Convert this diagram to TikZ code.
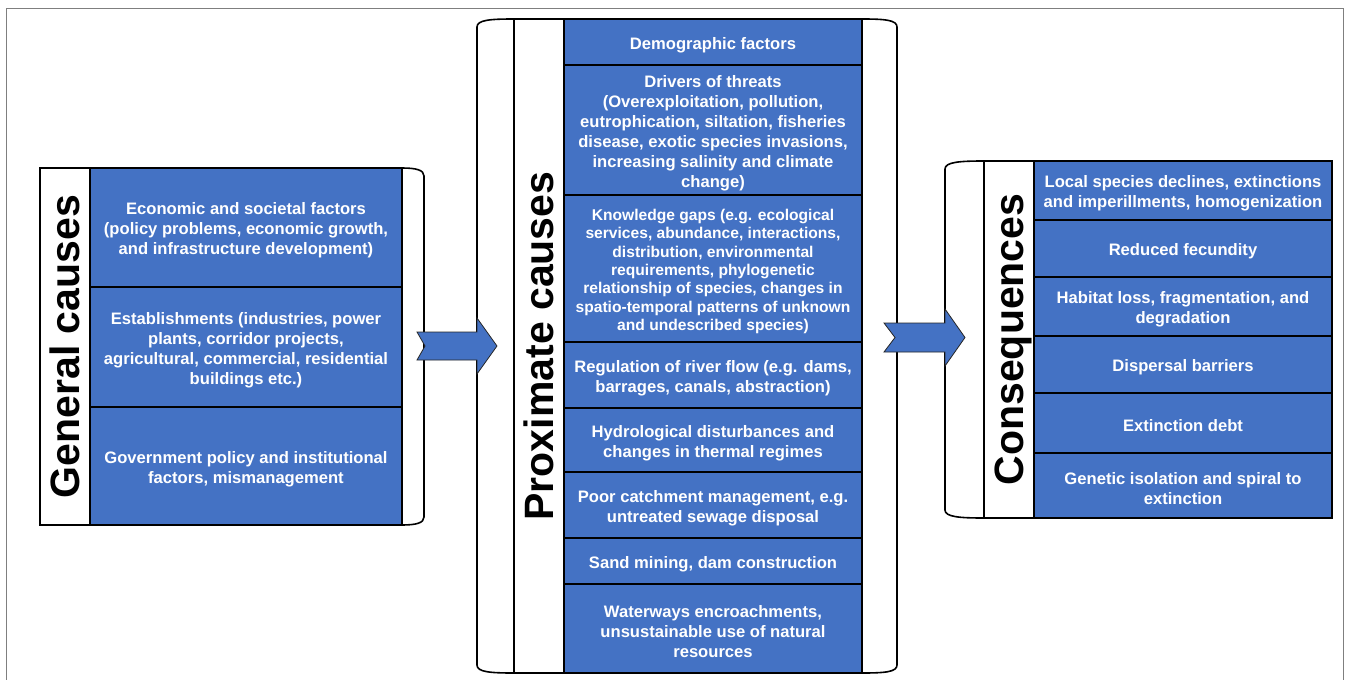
\documentclass[tikz,border=0pt]{standalone}
\usepackage{fontspec}
\setmainfont{Liberation Sans}
\definecolor{cellblue}{HTML}{4472C4}
\definecolor{framegray}{HTML}{7F7F7F}
\tikzset{
  cell/.style={draw=black, line width=1.6pt, fill=cellblue, inner sep=0pt},
  celltext/.style={text=white, font=\bfseries\fontsize{16.6}{20}\selectfont, align=center, inner sep=0pt},
  smalltext/.style={celltext, font=\bfseries\fontsize{15.6}{18.3}\selectfont},
  titlecol/.style={draw=black, line width=1.6pt, fill=white, rotate=90, inner sep=0pt,
    font=\bfseries\fontsize{41}{41}\selectfont, text height=29.4pt, text depth=0pt},
  curl/.style={draw=black, line width=1.6pt, fill=white},
  bigarrow/.style={draw=black!85, line width=0.8pt, fill=cellblue, line join=miter},
  outerframe/.style={draw=framegray, line width=1pt}
}
% #1 name, #2 width, #3 height, #4 centre, #5 text style, #6 text
\newcommand\mycell[6]{%
  \node[cell, minimum width=#2, minimum height=#3] (#1) at #4 {};
  \node[#5] (#1t) at ([yshift=-3pt]#1.center) {#6};}
\begin{document}
\begin{tikzpicture}[x=1pt,y=-1pt]
\useasboundingbox[fill=white] (0,0) rectangle (1347,680);
\draw[outerframe] (6,690) -- (6,8) -- (1343,8) -- (1343,690);

% scroll curls
\draw[curl] (402,168) .. controls (416,168) and (424,170) .. (424,176) -- (424,517) .. controls (424,523) and (416,525) .. (402,525) -- cycle;
\draw[curl] (514,19) .. controls (490,19) and (477,20) .. (477,27) -- (477,665) .. controls (477,672) and (490,673) .. (514,673) -- cycle;
\draw[curl] (862,19) .. controls (885,19) and (897,20) .. (897,27) -- (897,665) .. controls (897,672) and (885,673) .. (862,673) -- cycle;
\draw[curl] (984,161) .. controls (960,161) and (945,162) .. (945,169) -- (945,510) .. controls (945,517) and (960,518) .. (984,518) -- cycle;

% block arrows
\draw[bigarrow] (417,332) -- (477,332) -- (477,318) -- (497,346) -- (477,374) -- (477,360) -- (417,360) -- (425,346) -- cycle;
\draw[bigarrow] (884,323) -- (945,323) -- (945,309) -- (965,337.5) -- (945,366) -- (945,352) -- (884,352) -- (895,337.5) -- cycle;

% General causes
\node[titlecol, minimum width=357pt, minimum height=50pt] (gt) at (65,346.5) {General causes};
\mycell{g1}{312pt}{119pt}{(246,227.5)}{celltext}{Economic and societal factors\\(policy problems, economic growth,\\and infrastructure development)}
\mycell{g2}{312pt}{120pt}{(246,347)}{celltext}{Establishments (industries, power\\plants, corridor projects,\\agricultural, commercial, residential\\buildings etc.)}
\mycell{g3}{312pt}{118pt}{(246,466)}{celltext}{Government policy and institutional\\factors, mismanagement}

% Proximate causes
\node[titlecol, minimum width=654pt, minimum height=50pt] (pt) at (539,346) {Proximate causes};
\mycell{p1}{298pt}{46pt}{(713,42)}{celltext}{Demographic factors}
\mycell{p2}{298pt}{130pt}{(713,130)}{celltext}{Drivers of threats\\(Overexploitation, pollution,\\eutrophication, siltation, fisheries\\disease, exotic species invasions,\\increasing salinity and climate\\change)}
\mycell{p3}{298pt}{147pt}{(713,268.5)}{smalltext}{Knowledge gaps (e.g. ecological\\services, abundance, interactions,\\distribution, environmental\\requirements, phylogenetic\\relationship of species, changes in\\spatio-temporal patterns of unknown\\and undescribed species)}
\mycell{p4}{298pt}{66pt}{(713,375)}{celltext}{Regulation of river flow (e.g. dams,\\barrages, canals, abstraction)}
\mycell{p5}{298pt}{64pt}{(713,440)}{celltext}{Hydrological disturbances and\\changes in thermal regimes}
\mycell{p6}{298pt}{66pt}{(713,505)}{celltext}{Poor catchment management, e.g.\\untreated sewage disposal}
\mycell{p7}{298pt}{46pt}{(713,561)}{celltext}{Sand mining, dam construction}
\mycell{p8}{298pt}{89pt}{(713,628.5)}{celltext}{Waterways encroachments,\\unsustainable use of natural\\resources}

% Consequences
\node[titlecol, minimum width=357pt, minimum height=50pt] (ct) at (1009,339.5) {Consequences};
\mycell{c1}{298pt}{59pt}{(1183,190.5)}{celltext}{Local species declines, extinctions\\and imperillments, homogenization}
\mycell{c2}{298pt}{57pt}{(1183,248.5)}{celltext}{Reduced fecundity}
\mycell{c3}{298pt}{59pt}{(1183,306.5)}{celltext}{Habitat loss, fragmentation, and\\degradation}
\mycell{c4}{298pt}{57pt}{(1183,364.5)}{celltext}{Dispersal barriers}
\mycell{c5}{298pt}{60pt}{(1183,423)}{celltext}{Extinction debt}
\mycell{c6}{298pt}{65pt}{(1183,485.5)}{celltext}{Genetic isolation and spiral to\\extinction}
\end{tikzpicture}
\end{document}
